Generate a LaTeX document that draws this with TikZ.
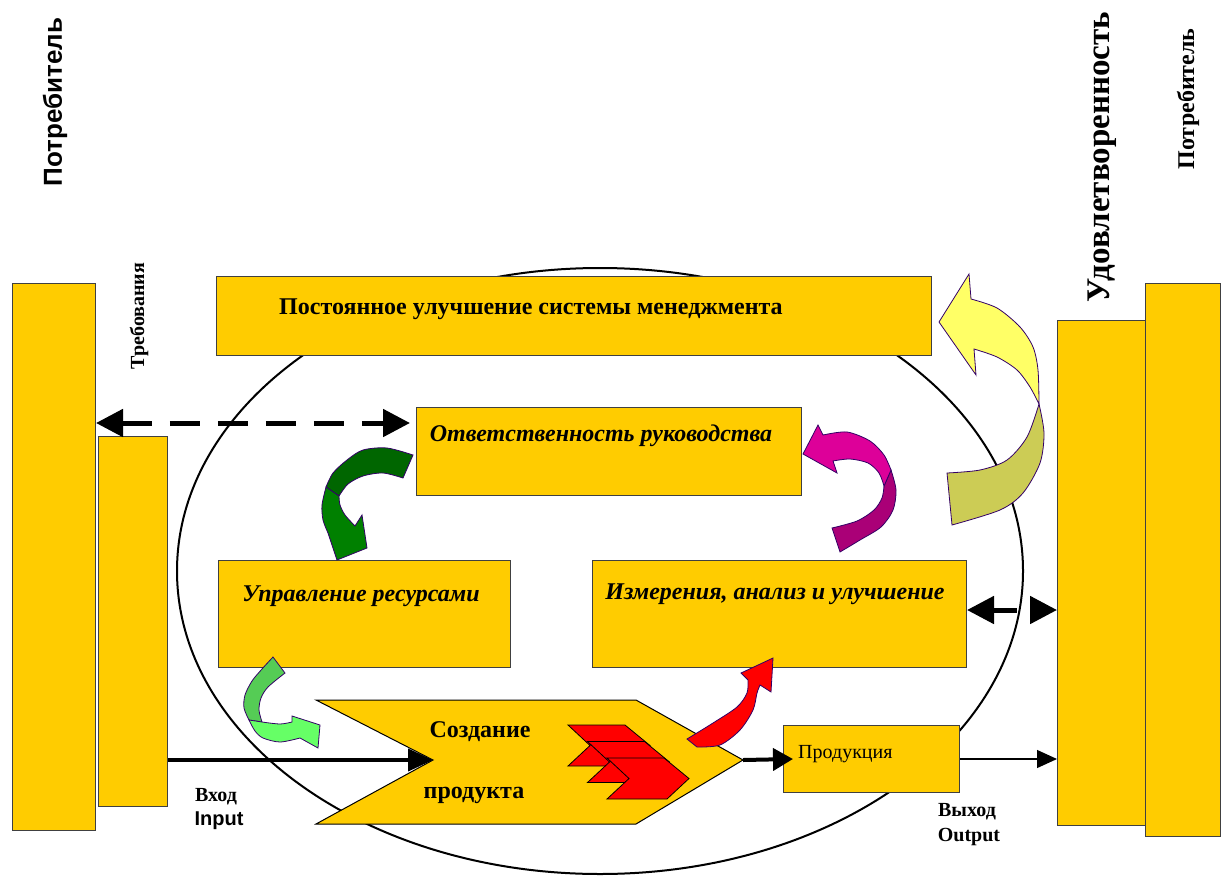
\documentclass[tikz,border=0pt]{standalone}
\usepackage{fontspec}
\setmainfont{Liberation Serif}
\newfontfamily\arialfont{Liberation Sans}
\usetikzlibrary{arrows.meta, calc}

\definecolor{gold}{HTML}{FFCC00}
\definecolor{yelA}{HTML}{FFFF66}
\definecolor{yelB}{HTML}{CCCC55}
\definecolor{magA}{HTML}{DD0099}
\definecolor{magB}{HTML}{AA0077}
\definecolor{grnA}{HTML}{006600}
\definecolor{grnB}{HTML}{008000}
\definecolor{lgrA}{HTML}{55CC55}
\definecolor{lgrB}{HTML}{66FF66}
\definecolor{rim}{HTML}{330066}

\begin{document}
\begin{tikzpicture}[x=1pt, y=-1pt,
    box/.style={rectangle, draw=black!75, fill=gold, line width=1pt,
                anchor=north west, inner sep=0pt},
    ttl/.style={font=\fontsize{24}{28}\selectfont\bfseries, inner sep=0pt, anchor=base},
    ittl/.style={ttl, font=\fontsize{24}{28}\selectfont\bfseries\itshape},
    side/.style={font=\fontsize{20}{24}\selectfont\bfseries, inner sep=0pt, anchor=base},
    vert/.style={rotate=90, inner sep=0pt, font=\bfseries},
    ribbon/.style={draw=rim, line width=0.8pt},
    dasharrow/.style={{Triangle[length=27pt, width=27pt]}-{Triangle[length=27pt, width=27pt]},
                      line width=5pt},
    inarrow/.style={-{Triangle[length=25pt, width=22pt]}, line width=4pt},
    outarrow/.style={-{Triangle[length=20pt, width=18pt]}, line width=1.2pt},
]
    \useasboundingbox (0,0) rectangle (1222,875);

    % --- outer cycle ---
    \draw[line width=2pt] (600,571) ellipse [x radius=423pt, y radius=303pt];

    % --- customer side boxes ---
    \node[box, minimum width=83pt, minimum height=547pt] (custL) at (12,283) {};
    \node[box, minimum width=69pt, minimum height=370pt] (reqL) at (98,436) {};
    \node[box, minimum width=88pt, minimum height=505pt] (satR) at (1057,320) {};
    \node[box, minimum width=75pt, minimum height=553pt] (custR) at (1145,283) {};

    \node[vert, font=\arialfont\bfseries\fontsize{26}{30}\selectfont] (custLtxt) at (55,102) {Потребитель};
    \node[vert, font=\bfseries\fontsize{20}{24}\selectfont] (reqtxt) at (139,316) {Требования};
    \node[vert, font=\bfseries\fontsize{33}{38}\selectfont] (sattxt) at (1102,157) {Удовлетворенность};
    \node[vert, font=\bfseries\fontsize{24}{28}\selectfont] (custRtxt) at (1188,99) {Потребитель};

    % --- process boxes ---
    \node[box, minimum width=715pt, minimum height=79pt] (improve) at (216,276) {};
    \node[box, minimum width=385pt, minimum height=88pt] (resp) at (416,407) {};
    \node[box, minimum width=292pt, minimum height=107pt] (resman) at (218,560) {};
    \node[box, minimum width=374pt, minimum height=107pt] (meas) at (592,560) {};

    \node[ttl] (improvetxt) at (531,314) {Постоянное улучшение системы менеджмента};
    \node[ittl] (resptxt) at (601,441) {Ответственность руководства};
    \node[ittl] (resmantxt) at (361,601) {Управление ресурсами};
    \node[ittl] (meastxt) at (775,599) {Измерения, анализ и улучшение};

    % --- product realization ---
    \filldraw[fill=gold, draw=black, line width=1pt]
        (316,700) -- (636,700) -- (743,760) -- (636,824) -- (316,824) -- (433,760) -- cycle;
    \coordinate (notch) at (433,760);
    \coordinate (ctip) at (743,760);
    \foreach \dx/\dy in {0/0, 19.5/16.5, 39/33}
        \filldraw[fill=red, draw=black, line width=0.8pt, shift={(568+\dx,725+\dy)}]
            (0,0) -- (57,0) -- (82,20.5) -- (60,41) -- (0,41) -- (22,20.5) -- cycle;
    \node[ttl] (maketxt) at (480,737) {Создание};
    \node[ttl] (prodtxt) at (474,798) {продукта};

    \node[box, minimum width=176pt, minimum height=67pt] (prod) at (783,725) {};
    \node[inner sep=0pt, anchor=base west, font=\fontsize{20}{24}\selectfont] (prodname) at (798,758) {Продукция};

    % --- inputs and outputs ---
    \coordinate (dashR) at ($(resp.north west)+(-6,16)$);
    \draw[dasharrow, dash pattern=on 30pt off 18pt] (custL.east |- dashR) -- (dashR);
    \draw[dasharrow, dash pattern=on 24pt off 20pt] ([yshift=4pt]meas.east) -- ([yshift=4pt]satR.west |- meas.east);
    \draw[inarrow] (reqL.east |- notch) -- (notch);
    \draw[-{Triangle[length=20pt, width=22pt]}, line width=4pt] (ctip) -- ([xshift=10pt]prod.west);
    \draw[outarrow] (prod.east) -- (satR.west |- prod.east);

    \node[side] (intxt) at (216,801) {Вход};
    \node[side, font=\arialfont\bfseries\fontsize{20}{24}\selectfont] (inen) at (219,825) {Input};
    \node[side] (outtxt) at (967,816) {Выход};
    \node[side] (outen) at (969,841) {Output};

    % --- curved arrows ---
    % yellow: satisfaction back to improvement
    \filldraw[ribbon, fill=yelB]
        plot[smooth] coordinates {(1039,404) (1044,433) (1040,463) (1023,493) (1000,510) (952,525)}
        -- plot[smooth] coordinates {(947,473) (980,470) (1007,460) (1027,437) (1039,404)} -- cycle;
    \filldraw[ribbon, fill=yelA]
        plot[smooth] coordinates {(1039,404) (1038,370) (1033,347) (1020,327) (997,308) (971,299)}
        -- (969,274) -- (939,322) -- (976,375)
        -- plot[smooth] coordinates {(974,349) (997,357) (1017,370) (1030,387) (1039,404)} -- cycle;
    % magenta: measurement to responsibility
    \filldraw[ribbon, fill=magB]
        plot[smooth] coordinates {(891,470) (896,490) (893,510) (881,527) (860,540) (840,552)}
        -- plot[smooth] coordinates {(832,528) (857,521) (874,510) (882,498) (884,486)} -- cycle;
    \filldraw[ribbon, fill=magA]
        plot[smooth] coordinates {(891,470) (884,455) (870,441) (847,432) (823,435)}
        -- (818,425) -- (803,454) -- (837,473)
        -- plot[smooth] coordinates {(833,461) (850,459) (868,463) (879,473) (884,486)} -- cycle;
    % dark green: responsibility to resources
    \filldraw[ribbon, fill=grnA]
        plot[smooth] coordinates {(413,455) (387,448) (363,450) (347,460) (333,473) (326,487)}
        -- plot[smooth] coordinates {(339,496) (348,484) (363,476) (383,473) (403,478)} -- cycle;
    \filldraw[ribbon, fill=grnB]
        plot[smooth] coordinates {(326,487) (322,505) (323,520) (328,533)}
        -- (337,560) -- (367,548) -- (362,515)
        -- plot[smooth] coordinates {(355,526) (345,515) (340,505) (339,496)} -- cycle;
    % light green: resources to realization
    \filldraw[ribbon, fill=lgrA]
        plot[smooth] coordinates {(273,657) (262,669) (252,681) (245,695) (244,708) (249,720)}
        -- plot[smooth] coordinates {(262,722) (259,710) (261,698) (268,687) (285,673)} -- cycle;
    \filldraw[ribbon, fill=lgrB]
        plot[smooth] coordinates {(249,720) (255,731) (263,738) (280,742) (300,738)}
        -- (318,748) -- (320,725) -- (292,716)
        -- plot[smooth] coordinates {(292,722) (280,724) (262,722)} -- cycle;
    % red: realization to measurement
    \filldraw[ribbon, fill=red]
        plot[smooth] coordinates {(687,739) (713,723) (737,707) (747,693) (748,680)}
        -- (741,673) -- (773,658) -- (771,692)
        -- plot[smooth] coordinates {(760,685) (757,693) (753,710) (740,730) (720,745) (697,747)} -- cycle;
\end{tikzpicture}
\end{document}
